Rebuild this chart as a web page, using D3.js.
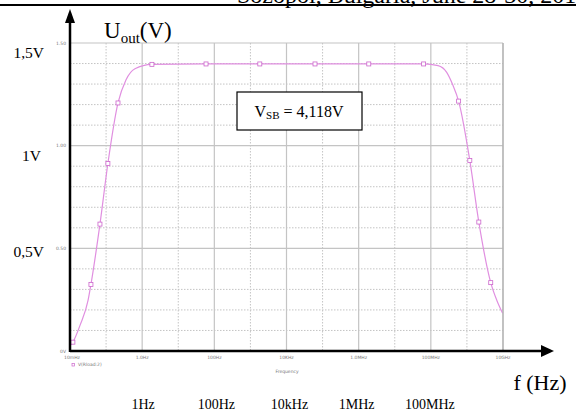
<!DOCTYPE html>
<html>
<head>
<meta charset="utf-8">
<script src="https://cdn.jsdelivr.net/npm/d3@7"></script>
<style>
  body { margin: 0; background: #fff; }
  svg { display: block; }
</style>
</head>
<body>
<script>
// log10(frequency) and output voltage
var logFreq = [-1.97, -1.92, -1.72, -1.5, -1.42, -1.17, -0.95, -0.67, -0.45, -0.2, 0.27, 1.77, 3.26, 4.79, 6.28, 7.8, 8.2, 8.44, 8.61, 8.77, 9.08, 9.33, 9.66, 9.83, 9.99];
var uOut = [0.03, 0.043, 0.126, 0.246, 0.324, 0.618, 0.913, 1.208, 1.32, 1.375, 1.396, 1.398, 1.398, 1.398, 1.398, 1.398, 1.39, 1.357, 1.295, 1.217, 0.928, 0.628, 0.333, 0.246, 0.184];
var markerIdx = [1, 4, 5, 6, 7, 10, 11, 12, 13, 14, 15, 19, 20, 21, 22];

var decades = [-2, -1, 0, 1, 2, 3, 4, 5, 6, 7, 8, 9, 10];
var xTickLabels = ["10mHz", "1.0Hz", "100Hz", "10KHz", "1.0MHz", "100MHz", "10GHz"];
var yTickValues = [0, 0.5, 1.0, 1.5];
var yTickLabels = ["0V", "0.50", "1.00", "1.50"];
var bigYLabels = ["0,5V", "1V", "1,5V"];
var bigXLabels = ["1Hz", "100Hz", "10kHz", "1MHz", "100MHz"];
var bigXDecades = [0, 2, 4, 6, 8];

var svgWidth = 576;
var svgHeight = 412;

var plot = { left: 70, right: 503, top: 43, bottom: 351 };

var svg = d3.select("body")
  .append("svg")
  .attr("width", svgWidth)
  .attr("height", svgHeight);

var x = d3.scaleLinear().domain([-2, 10]).range([plot.left, plot.right]);
var y = d3.scaleLinear().domain([0, 1.5]).range([plot.bottom, plot.top]);

// header fragment cut at the top of the page
svg.append("text")
  .attr("x", 237)
  .attr("y", 2.5)
  .attr("font-family", "Liberation Serif")
  .attr("font-size", 24)
  .text("Sozopol, Bulgaria, June 28-30, 2010");
svg.append("line")
  .attr("x1", 0).attr("x2", svgWidth)
  .attr("y1", 5).attr("y2", 5)
  .attr("stroke", "#000").attr("stroke-width", 2);

// grid
var grid = svg.append("g");
decades.forEach(function(d) {
  if (d === -2) return;
  grid.append("line")
    .attr("x1", x(d)).attr("x2", x(d))
    .attr("y1", plot.top).attr("y2", plot.bottom)
    .attr("stroke", "#c4c4c4")
    .attr("stroke-width", d % 2 === 0 ? 1.2 : 1)
    .attr("stroke-dasharray", d % 2 === 0 ? null : "1.5,1.5");
});
d3.range(1, 16).forEach(function(i) {
  var v = i / 10;
  var major = i % 5 === 0;
  grid.append("line")
    .attr("x1", plot.left).attr("x2", plot.right)
    .attr("y1", y(v)).attr("y2", y(v))
    .attr("stroke", "#c4c4c4")
    .attr("stroke-width", major ? 1.2 : 1)
    .attr("stroke-dasharray", major ? null : "1.5,1.5");
});

// tiny simulator tick labels
var tiny = svg.append("g")
  .attr("font-family", "DejaVu Sans")
  .attr("font-size", 4.5)
  .attr("fill", "#777");
yTickValues.forEach(function(v, i) {
  tiny.append("text")
    .attr("x", plot.left - 4)
    .attr("y", y(v) + 1.5)
    .attr("text-anchor", "end")
    .text(yTickLabels[i]);
});
xTickLabels.forEach(function(t, i) {
  tiny.append("text")
    .attr("x", x(-2 + i * 2) + (i === 0 ? 2 : 0))
    .attr("y", plot.bottom + 8)
    .attr("text-anchor", "middle")
    .text(t);
});
tiny.append("text")
  .attr("x", 287).attr("y", 373)
  .attr("text-anchor", "middle")
  .text("Frequency");
tiny.append("rect")
  .attr("x", 72).attr("y", 363.5)
  .attr("width", 2.5).attr("height", 2.5)
  .attr("fill", "none").attr("stroke", "#cc66cc").attr("stroke-width", 0.7);
tiny.append("text")
  .attr("x", 78).attr("y", 366)
  .text("V(Rload:2)");

// curve
var pts = logFreq.map(function(f, i) { return [f, uOut[i]]; });
var line = d3.line()
  .x(function(d) { return x(d[0]); })
  .y(function(d) { return y(d[1]); })
  .curve(d3.curveMonotoneX);

svg.append("path")
  .datum(pts)
  .attr("d", line)
  .attr("fill", "none")
  .attr("stroke", "#e08fe0")
  .attr("stroke-width", 1.2);

svg.selectAll(".mk")
  .data(markerIdx.map(function(i) { return pts[i]; }))
  .enter()
  .append("rect")
  .attr("class", "mk")
  .attr("x", function(d) { return x(d[0]) - 2; })
  .attr("y", function(d) { return y(d[1]) - 2; })
  .attr("width", 4).attr("height", 4)
  .attr("fill", "#fff")
  .attr("stroke", "#cc66cc")
  .attr("stroke-width", 0.8);

// right border (grey)
svg.append("line")
  .attr("x1", plot.right).attr("x2", plot.right)
  .attr("y1", plot.top).attr("y2", plot.bottom)
  .attr("stroke", "#b0b0b0").attr("stroke-width", 1.2);

// black arrow axes
svg.append("line")
  .attr("x1", plot.left).attr("x2", plot.left)
  .attr("y1", plot.bottom + 1).attr("y2", 20)
  .attr("stroke", "#000").attr("stroke-width", 2.5);
svg.append("path")
  .attr("d", "M" + plot.left + ",9 L" + (plot.left - 5) + ",23 L" + (plot.left + 5) + ",23 Z")
  .attr("fill", "#000");
svg.append("line")
  .attr("x1", plot.left).attr("x2", 545)
  .attr("y1", plot.bottom).attr("y2", plot.bottom)
  .attr("stroke", "#000").attr("stroke-width", 2.5);
svg.append("path")
  .attr("d", "M554," + plot.bottom + " L541," + (plot.bottom - 6) + " L541," + (plot.bottom + 6) + " Z")
  .attr("fill", "#000");

// hand-written labels
var serif = svg.append("g")
  .attr("font-family", "Liberation Serif")
  .attr("fill", "#000");

var uLab = serif.append("text")
  .attr("x", 104).attr("y", 38)
  .attr("font-size", 23);
uLab.append("tspan").text("U");
uLab.append("tspan").attr("font-size", 15).attr("dy", 5).text("out");
uLab.append("tspan").attr("dy", -5).text("(V)");

var bigYRight = [44, 41, 44];
var bigYBase = [257, 161, 58];
bigYLabels.forEach(function(t, i) {
  serif.append("text")
    .attr("x", bigYRight[i])
    .attr("y", bigYBase[i])
    .attr("text-anchor", "end")
    .attr("font-size", 15.5)
    .text(t);
});

var bigXShift = [1, 2, 3, -2, -1];
bigXLabels.forEach(function(t, i) {
  serif.append("text")
    .attr("x", x(bigXDecades[i]) + bigXShift[i])
    .attr("y", 409)
    .attr("text-anchor", "middle")
    .attr("font-size", 14)
    .text(t);
});

serif.append("text")
  .attr("x", 540).attr("y", 390)
  .attr("text-anchor", "middle")
  .attr("font-size", 22)
  .text("f (Hz)");

// V_SB box
serif.append("rect")
  .attr("x", 237).attr("y", 92)
  .attr("width", 125).attr("height", 38)
  .attr("fill", "#fff")
  .attr("stroke", "#000").attr("stroke-width", 1.2);
var vsb = serif.append("text")
  .attr("x", 299).attr("y", 117)
  .attr("text-anchor", "middle")
  .attr("font-size", 16);
vsb.append("tspan").text("V");
vsb.append("tspan").attr("font-size", 11).attr("dy", 2).text("SB");
vsb.append("tspan").attr("dy", -2).text(" = 4,118V");
</script>
</body>
</html>
